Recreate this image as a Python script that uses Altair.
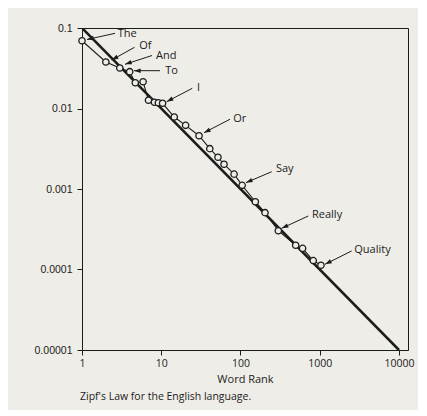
import math
import altair as alt
import pandas as pd

# ---- data ----
ranks = [1, 2, 3, 4, 4.7, 5.9, 6.9, 8.2, 9.2, 10.4, 14.6, 20.3, 30, 41, 52, 62,
         83, 105, 154, 204, 300, 497, 608, 829, 1037]
freqs = [0.0695, 0.0378, 0.0318, 0.0287, 0.0209, 0.0215, 0.01265, 0.01194,
         0.0118, 0.0116, 0.00784, 0.00618, 0.00459, 0.00317, 0.00248, 0.00203,
         0.00153, 0.00111, 0.000695, 0.000508, 0.000303, 0.0002, 0.000183,
         0.000129, 0.000113]

zipf_x = [1, 10000]
zipf_y = [0.1, 0.00001]

words = ["The", "Of", "And", "To", "I", "Or", "Say", "Really", "Quality"]
label_x = [2.74, 5.13, 8.34, 10.9, 27.4, 78.8, 272, 776, 2651]
label_y = [0.0842, 0.0603, 0.0453, 0.0295, 0.0178, 0.00734, 0.00176, 0.000475, 0.000175]
tail_x = [2.61, 4.60, 7.64, 9.64, 24.6, 73.7, 248, 717, 2529]
tail_y = [0.0859, 0.0576, 0.0455, 0.0295, 0.0178, 0.00735, 0.00164, 0.000462, 0.000170]
head_x = [1.156, 2.37, 3.49, 4.53, 11.7, 34.6, 117, 331, 1165]
head_y = [0.0720, 0.0400, 0.0354, 0.0295, 0.01215, 0.00500, 0.001198, 0.000325, 0.000116]

x_ticks = [1, 10, 100, 1000, 10000]
y_ticks = [0.1, 0.01, 0.001, 0.0001, 0.00001]

caption = "Zipf's Law for the English language."
x_title = "Word Rank"

# ---- layout ----
W, H = 326, 322
X_DOMAIN = [1, 13000]
Y_DOMAIN = [0.00001, 0.1]
INK = "#1c1c1c"
PAPER = "#eeede7"


def px(v):
    return W * math.log10(v / X_DOMAIN[0]) / math.log10(X_DOMAIN[1] / X_DOMAIN[0])


def py(v):
    return H * math.log10(Y_DOMAIN[1] / v) / math.log10(Y_DOMAIN[1] / Y_DOMAIN[0])


angles = []
for tx, ty, hx, hy in zip(tail_x, tail_y, head_x, head_y):
    dx = px(hx) - px(tx)
    dy = py(hy) - py(ty)
    angles.append(math.degrees(math.atan2(dx, -dy)) % 360)

pts = pd.DataFrame({"rank": ranks, "freq": freqs})
zipf = pd.DataFrame({"rank": zipf_x, "freq": zipf_y})
ann = pd.DataFrame({
    "word": words, "lx": label_x, "ly": label_y,
    "tx": tail_x, "ty": tail_y, "hx": head_x, "hy": head_y, "ang": angles,
})

xs = alt.Scale(type="log", domain=X_DOMAIN)
ys = alt.Scale(type="log", domain=Y_DOMAIN)

x_axis = alt.Axis(values=x_ticks, format=".0f", title=x_title, grid=False,
                  tickSize=5, labelPadding=3, titlePadding=5,
                  labelFont="Open Sans", labelFontSize=10.5, labelColor=INK,
                  titleFont="Open Sans", titleFontSize=11, titleFontWeight="normal",
                  titleColor=INK, domainColor=INK, tickColor=INK, labelFlush=False)
y_axis = alt.Axis(values=y_ticks, format=".5~f", title=None, grid=False,
                  tickSize=5, labelPadding=5,
                  labelFont="Liberation Sans", labelFontSize=10.5, labelColor=INK,
                  domainColor=INK, tickColor=INK, labelFlush=False)

base_pts = alt.Chart(pts)

zipf_line = alt.Chart(zipf).mark_line(color=INK, strokeWidth=2.6, clip=True).encode(
    x=alt.X("rank:Q", scale=xs, axis=x_axis),
    y=alt.Y("freq:Q", scale=ys, axis=y_axis),
)

data_line = base_pts.mark_line(color=INK, strokeWidth=1.1).encode(
    x=alt.X("rank:Q", scale=xs), y=alt.Y("freq:Q", scale=ys), order="rank:Q"
)

circles = base_pts.mark_point(shape="circle", filled=True, fill=PAPER, stroke=INK,
                              strokeWidth=1.3, size=40, opacity=1).encode(
    x=alt.X("rank:Q", scale=xs), y=alt.Y("freq:Q", scale=ys)
)

arrows = alt.Chart(ann).mark_rule(color=INK, strokeWidth=1).encode(
    x=alt.X("tx:Q", scale=xs), y=alt.Y("ty:Q", scale=ys),
    x2="hx:Q", y2="hy:Q",
)

heads = alt.Chart(ann).mark_point(shape="M0,0L-1,3L1,3Z", filled=True, fill=INK,
                                  strokeWidth=0, size=20, opacity=1).encode(
    x=alt.X("hx:Q", scale=xs), y=alt.Y("hy:Q", scale=ys),
    angle=alt.Angle("ang:Q", scale=None),
)

labels = alt.Chart(ann).mark_text(align="left", baseline="middle", font="Open Sans",
                                  fontSize=11, color=INK, dx=1).encode(
    x=alt.X("lx:Q", scale=xs), y=alt.Y("ly:Q", scale=ys), text="word:N"
)

cap = alt.Chart(pd.DataFrame({"t": [caption]})).mark_text(
    align="left", baseline="middle", font="Open Sans", fontSize=10.5, color=INK
).encode(x=alt.value(-2), y=alt.value(369), text="t:N")

chart = alt.layer(zipf_line, data_line, arrows, heads, circles, labels, cap).properties(
    width=W, height=H,
    autosize=alt.AutoSizeParams(type="none"),
    padding={"left": 74, "top": 20, "right": 10, "bottom": 60},
    background=PAPER,
).configure_view(stroke=INK, strokeWidth=1)

chart.save("out.html", embed_options={"renderer": "svg", "actions": False})
